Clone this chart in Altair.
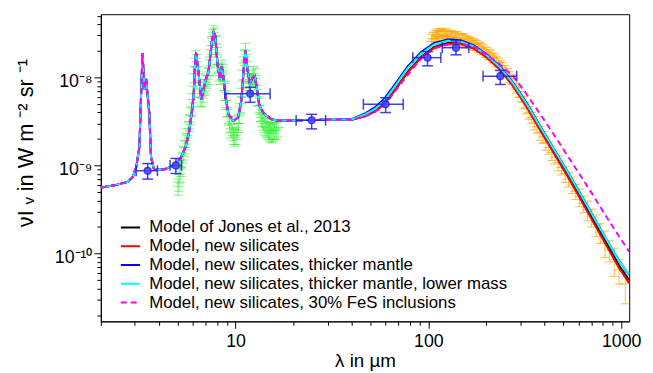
import altair as alt
import pandas as pd

# ---------------- model curves ----------------
short_wl = [2.0, 2.4, 2.76, 2.93, 3.05, 3.17, 3.23, 3.29, 3.37, 3.43, 3.57, 3.64, 3.78, 4.26, 4.79,
            5.18, 5.5, 5.72, 5.95, 6.07, 6.18, 6.24, 6.32, 6.44, 6.64, 6.96, 7.24, 7.53, 7.69, 7.84,
            8.06, 8.3, 8.47, 8.65, 8.89, 9.18, 9.73, 10.3, 10.7, 11.1, 11.25, 11.5, 11.85, 12.3, 12.6,
            13.3, 14.1, 15.3, 16.6, 22.7, 30, 35]
short_I = [5.6e-10, 6.0e-10, 6.5e-10, 7.4e-10, 9.5e-10, 1.61e-9, 5.86e-9, 1.87e-8, 7.3e-9, 9.8e-9,
           3.85e-9, 1.25e-9, 8.9e-10, 9.0e-10, 1.0e-9, 1.2e-9, 1.61e-9, 2.28e-9, 4.2e-9, 6.5e-9,
           1.64e-8, 1.9e-8, 1.5e-8, 1.07e-8, 5.6e-9, 9.0e-9, 1.17e-8, 2.53e-8, 3.25e-8, 3.0e-8,
           1.39e-8, 9.4e-9, 1.33e-8, 1.0e-8, 5.86e-9, 3.82e-9, 3.2e-9, 3.5e-9, 5.4e-9, 1.51e-8,
           2.0e-8, 1.27e-8, 8.5e-9, 1.0e-8, 1.03e-8, 4.73e-9, 3.82e-9, 3.36e-9, 3.21e-9, 3.27e-9,
           3.3e-9, 3.32e-9]

far_wl = [40, 47, 53, 59, 67, 78, 92, 107, 126, 147, 172, 201, 236, 276, 323, 378, 443, 518,
          607, 710, 830, 972, 1100]
jones = [3.3e-9, 3.65e-9, 4.15e-9, 5.0e-9, 7.2e-9, 1.15e-8, 1.72e-8, 2.2e-8, 2.45e-8, 2.43e-8,
         2.15e-8, 1.7e-8, 1.24e-8, 8.0e-9, 4.75e-9, 2.65e-9, 1.48e-9, 8.4e-10, 4.6e-10, 2.5e-10,
         1.37e-10, 7.4e-11, 5.0e-11]
newsil = [3.3e-9, 3.62e-9, 4.1e-9, 4.95e-9, 7.1e-9, 1.13e-8, 1.69e-8, 2.16e-8, 2.4e-8, 2.39e-8,
          2.12e-8, 1.67e-8, 1.21e-8, 7.8e-9, 4.6e-9, 2.55e-9, 1.42e-9, 8.0e-10, 4.35e-10, 2.35e-10,
          1.28e-10, 6.9e-11, 4.6e-11]
thick = [3.35e-9, 3.9e-9, 4.6e-9, 5.7e-9, 8.3e-9, 1.33e-8, 1.95e-8, 2.45e-8, 2.7e-8, 2.63e-8,
         2.3e-8, 1.82e-8, 1.32e-8, 8.6e-9, 5.15e-9, 2.85e-9, 1.6e-9, 9.1e-10, 5.0e-10, 2.75e-10,
         1.5e-10, 8.4e-11, 5.7e-11]
thick_low = [3.33e-9, 3.8e-9, 4.4e-9, 5.4e-9, 7.9e-9, 1.27e-8, 1.87e-8, 2.36e-8, 2.6e-8, 2.55e-8,
             2.24e-8, 1.77e-8, 1.29e-8, 8.4e-9, 5.0e-9, 2.8e-9, 1.58e-9, 9.0e-10, 4.95e-10, 2.72e-10,
             1.5e-10, 8.3e-11, 5.8e-11]
fes = [3.3e-9, 3.6e-9, 4.05e-9, 4.8e-9, 6.9e-9, 1.06e-8, 1.64e-8, 2.12e-8, 2.36e-8, 2.42e-8,
       2.22e-8, 1.8e-8, 1.39e-8, 1.02e-8, 6.45e-9, 3.88e-9, 2.32e-9, 1.36e-9, 8.0e-10, 4.69e-10,
       2.7e-10, 1.58e-10, 1.05e-10]

model_names = ["Model of Jones et al., 2013", "Model, new silicates",
               "Model, new silicates, thicker mantle",
               "Model, new silicates, thicker mantle, lower mass",
               "Model, new silicates, 30% FeS inclusions"]
model_colors = ["#000000", "#ff0000", "#0000ff", "#00ffff", "#ff00ff"]
model_dash = [[1, 0], [1, 0], [1, 0], [1, 0], [6, 4]]

# ---------------- green mid-IR spectrum ----------------
g_wl = [5.02, 5.08, 5.14, 5.2, 5.28, 5.36, 5.44, 5.52, 5.6, 5.68, 5.76, 5.84, 5.92, 6.0, 6.1, 6.2,
        6.3, 6.4, 6.5, 6.6, 6.7, 6.8, 6.9, 7.0, 7.1, 7.2, 7.3, 7.4, 7.5, 7.6, 7.7, 7.8, 7.9, 8.0,
        8.1, 8.2, 8.3, 8.4, 8.5, 8.6, 8.7, 8.8, 8.9, 9.0, 9.15, 9.3, 9.45, 9.6, 9.75, 9.9, 10.05,
        10.2, 10.35, 10.5, 10.65, 10.8, 10.95, 11.1, 11.25, 11.4, 11.55, 11.7, 11.85, 12.0, 12.2,
        12.4, 12.6, 12.8, 13.0, 13.2, 13.4, 13.6, 13.8, 14.0, 14.2, 14.4, 14.6, 14.8, 15.0, 15.2,
        15.4, 15.6, 15.8, 16.0, 16.3, 16.6]
g_I = [5.8e-10, 6.5e-10, 8.0e-10, 9.5e-10, 1.15e-9, 1.35e-9, 1.6e-9, 1.9e-9, 2.2e-9, 2.6e-9,
       3.1e-9, 3.7e-9, 4.6e-9, 6.5e-9, 1.1e-8, 1.65e-8, 1.5e-8, 1.1e-8, 7.5e-9, 6.0e-9, 5.8e-9,
       6.6e-9, 7.8e-9, 8.8e-9, 9.5e-9, 1.05e-8, 1.3e-8, 1.7e-8, 2.3e-8, 2.9e-8, 3.2e-8, 3.0e-8,
       2.4e-8, 1.8e-8, 1.4e-8, 1.15e-8, 1.05e-8, 1.2e-8, 1.3e-8, 1.15e-8, 9e-9, 7e-9, 5.5e-9,
       4.5e-9, 3.6e-9, 3.0e-9, 2.6e-9, 2.4e-9, 2.2e-9, 2.1e-9, 2.2e-9, 2.5e-9, 3.0e-9, 3.8e-9,
       5.0e-9, 7.5e-9, 1.2e-8, 1.7e-8, 2.0e-8, 1.5e-8, 1.1e-8, 9e-9, 8.5e-9, 9e-9, 1.0e-8, 1.1e-8,
       1.05e-8, 8e-9, 6e-9, 4.8e-9, 4.0e-9, 3.5e-9, 3.2e-9, 3.0e-9, 2.8e-9, 2.7e-9, 2.6e-9, 2.5e-9,
       2.4e-9, 2.5e-9, 2.3e-9, 2.4e-9, 2.5e-9, 2.6e-9, 2.5e-9, 2.7e-9]
g_err = [1.2e-10, 1.4e-10, 1.7e-10, 2.0e-10, 2.4e-10, 2.8e-10, 3.3e-10, 4.0e-10, 4.5e-10, 5.5e-10,
         6.5e-10, 8e-10, 1.0e-9, 1.4e-9, 2.3e-9, 3.5e-9, 3.2e-9, 2.3e-9, 1.6e-9, 1.3e-9, 1.2e-9,
         1.4e-9, 1.6e-9, 1.8e-9, 2.0e-9, 2.2e-9, 2.7e-9, 3.5e-9, 4.8e-9, 6e-9, 6.5e-9, 6.2e-9,
         5e-9, 3.8e-9, 2.9e-9, 2.4e-9, 2.2e-9, 2.5e-9, 2.7e-9, 2.4e-9, 1.9e-9, 1.5e-9, 1.2e-9,
         9.5e-10, 7.5e-10, 6.5e-10, 5.5e-10, 5e-10, 4.7e-10, 4.5e-10, 4.7e-10, 5.2e-10, 6.3e-10,
         8e-10, 1.05e-9, 1.6e-9, 2.5e-9, 3.5e-9, 4.3e-9, 3.2e-9, 2.3e-9, 1.9e-9, 1.8e-9, 1.9e-9,
         2.1e-9, 2.3e-9, 2.2e-9, 1.7e-9, 1.3e-9, 1.0e-9, 8.5e-10, 7.5e-10, 7e-10, 6.5e-10, 6e-10,
         6e-10, 5.5e-10, 5.5e-10, 5.5e-10, 5.5e-10, 5e-10, 5.5e-10, 5.5e-10, 6e-10, 5.5e-10, 6e-10]

# ---------------- orange far-IR spectrum ----------------
o_wl = [104, 105.5, 107, 108.5, 110, 111.5, 113, 114.5, 116, 117.5, 119, 120.5, 122, 124, 126,
        128, 130, 132, 134, 136, 138, 140.5, 143, 145.5, 148, 150.5, 153, 156, 159, 162, 165,
        168, 171, 174.5, 178, 181.5, 185, 189, 193, 197, 201, 205.5, 210, 215, 220, 225.5, 231,
        237, 243, 249.5, 256, 263, 270, 278, 286, 294.5, 303, 312.5, 322, 332.5, 343, 354.5, 366,
        379, 392, 406.5, 421, 437, 454, 472, 491, 512, 533, 557, 581, 609, 637, 669, 702, 740,
        778, 823, 868, 920, 975, 1050]
o_I = [2.55e-8, 2.75e-8, 2.7e-8, 2.95e-8, 2.85e-8, 3.05e-8, 2.9e-8, 2.8e-8, 3.0e-8, 3.1e-8,
       2.95e-8, 2.8e-8, 2.9e-8, 3.05e-8, 2.95e-8, 2.75e-8, 2.85e-8, 2.95e-8, 2.85e-8, 2.7e-8,
       2.8e-8, 2.85e-8, 2.78e-8, 2.65e-8, 2.75e-8, 2.7e-8, 2.68e-8, 2.55e-8, 2.6e-8, 2.5e-8,
       2.52e-8, 2.4e-8, 2.42e-8, 2.35e-8, 2.32e-8, 2.22e-8, 2.2e-8, 2.12e-8, 2.06e-8, 1.95e-8,
       1.92e-8, 1.83e-8, 1.78e-8, 1.68e-8, 1.65e-8, 1.53e-8, 1.47e-8, 1.36e-8, 1.3e-8, 1.19e-8,
       1.12e-8, 1.02e-8, 9.5e-9, 8.5e-9, 7.6e-9, 6.9e-9, 6.1e-9, 5.2e-9, 4.5e-9, 4.0e-9, 3.5e-9,
       3.05e-9, 2.75e-9, 2.35e-9, 2.1e-9, 1.82e-9, 1.6e-9, 1.4e-9, 1.25e-9, 1.08e-9, 9.5e-10,
       8.1e-10, 7.0e-10, 6.1e-10, 5.1e-10, 4.4e-10, 3.7e-10, 3.15e-10, 2.6e-10, 2.15e-10,
       1.75e-10, 1.35e-10, 1.1e-10, 8.5e-11, 6.5e-11, 4.5e-11]
o_err = [5e-9, 5e-9, 5e-9, 5e-9, 5e-9, 5e-9, 5e-9, 5e-9, 5e-9, 5e-9, 5e-9, 5e-9, 5e-9, 5e-9, 5e-9,
         4.5e-9, 4.5e-9, 4.5e-9, 4.5e-9, 4.5e-9, 4.5e-9, 4.5e-9, 4e-9, 4e-9, 4e-9, 4e-9, 4e-9,
         4e-9, 3.5e-9, 3.5e-9, 3.5e-9, 3.5e-9, 3.2e-9, 3.2e-9, 3e-9, 3e-9, 2.8e-9, 2.8e-9,
         2.6e-9, 2.6e-9, 2.4e-9, 2.4e-9, 2.2e-9, 2.2e-9, 2e-9, 2e-9, 1.8e-9, 1.8e-9, 1.6e-9,
         1.6e-9, 1.4e-9, 1.4e-9, 1.2e-9, 1.2e-9, 1e-9, 1e-9, 8e-10, 8e-10, 6.5e-10, 6.5e-10,
         5.2e-10, 5.2e-10, 4.2e-10, 4.2e-10, 3.3e-10, 3.3e-10, 2.6e-10, 2.6e-10, 2.1e-10, 2.1e-10,
         1.7e-10, 1.7e-10, 1.3e-10, 1.3e-10, 1e-10, 1e-10, 8e-11, 8e-11, 6e-11, 6e-11, 4.5e-11,
         4.5e-11, 3e-11, 3e-11, 2e-11, 1.8e-11]

# ---------------- blue photometric points ----------------
b_wl = [3.5, 4.9, 11.9, 24.8, 60, 99, 139, 236]
b_I = [8.7e-10, 1.0e-9, 6.5e-9, 3.25e-9, 4.95e-9, 1.67e-8, 2.17e-8, 1.03e-8]
b_xlo = [3.05, 4.57, 8.8, 20.6, 46, 83, 118, 192]
b_xhi = [3.93, 5.24, 15.1, 29.3, 74, 116, 162, 287]
b_ylo = [7.0e-10, 8.1e-10, 5.2e-9, 2.6e-9, 3.98e-9, 1.35e-8, 1.8e-8, 8.3e-9]
b_yhi = [1.05e-9, 1.2e-9, 7.7e-9, 3.8e-9, 5.86e-9, 1.96e-8, 2.6e-8, 1.2e-8]

x_ticks = [2, 3, 4, 5, 6, 7, 8, 9, 10, 20, 30, 40, 50, 60, 70, 80, 90, 100, 200, 300, 400,
           500, 600, 700, 800, 900, 1000]
y_ticks = [2e-11, 3e-11, 4e-11, 5e-11, 6e-11, 7e-11, 8e-11, 9e-11, 1e-10, 2e-10, 3e-10, 4e-10,
           5e-10, 6e-10, 7e-10, 8e-10, 9e-10, 1e-9, 2e-9, 3e-9, 4e-9, 5e-9, 6e-9, 7e-9, 8e-9,
           9e-9, 1e-8, 2e-8, 3e-8, 4e-8, 5e-8]

# ---------------- tables ----------------
rows = []
for name, far in zip(model_names, [jones, newsil, thick, thick_low, fes]):
    for i, (w, v) in enumerate(zip(short_wl + far_wl, short_I + far)):
        rows.append({"model": name, "wl": w, "I": v, "idx": i})
models = pd.DataFrame(rows)

green = pd.DataFrame({"wl": g_wl, "I": g_I, "err": g_err})
green["lo"] = green["I"] - green["err"]
green["hi"] = green["I"] + green["err"]
orange = pd.DataFrame({"wl": o_wl, "I": o_I, "err": o_err})
orange["lo"] = orange["I"] - orange["err"]
orange["hi"] = orange["I"] + orange["err"]
blue = pd.DataFrame({"wl": b_wl, "I": b_I, "xlo": b_xlo, "xhi": b_xhi, "lo": b_ylo, "hi": b_yhi})

FONT = "Liberation Sans"
xs = alt.Scale(type="log", domain=[2, 1100], nice=False)
ys = alt.Scale(type="log", domain=[1.7e-11, 5.2e-8], nice=False)
LG = "(log(datum.value)/LN10)"
MAJ = f"abs({LG} - round({LG})) < 0.01"
EXP = f"round({LG})"

x_axis = alt.Axis(values=x_ticks, title="λ in µm", grid=False,
                  labelExpr=f"{MAJ} ? format(datum.value, 'd') : ''",
                  tickSize={"condition": {"test": MAJ, "value": 7}, "value": 4},
                  tickColor="black", domainColor="black", labelColor="black", titleColor="black",
                  labelFont=FONT, titleFont=FONT, labelFontSize=18, titleFontSize=19,
                  titleFontWeight="normal", labelPadding=4, titlePadding=2,
                  labelFlush=False, labelOverlap=False)
y_axis = alt.Axis(values=y_ticks, title="νI ᵥ  in W m ⁻²  sr ⁻¹", grid=False,
                  labelExpr=(f"!({MAJ}) ? '' : {EXP} == -8 ? '10⁻⁸' : {EXP} == -9 ? '10⁻⁹' : "
                             f"{EXP} == -10 ? '10⁻¹⁰' : ''"),
                  tickSize={"condition": {"test": MAJ, "value": 7}, "value": 4},
                  tickColor="black", domainColor="black", labelColor="black", titleColor="black",
                  labelFont=FONT, titleFont=FONT, labelFontSize=18, titleFontSize=22,
                  titleFontWeight="normal", labelPadding=2, labelOffset=4,
                  titleX=-64, titleY=130, titleAlign="center", titleBaseline="bottom",
                  titleAngle=270,
                  labelFlush=False, labelOverlap=False)


def X(f):
    return alt.X(f, type="quantitative", scale=xs, axis=x_axis)


def Y(f):
    return alt.Y(f, type="quantitative", scale=ys, axis=y_axis)


def errbars(df, color, opacity, cap, mid):
    base = alt.Chart(df)
    v = base.mark_rule(color=color, opacity=opacity, strokeWidth=1, clip=True).encode(
        x=X("wl"), y=Y("lo"), y2="hi")
    c1 = base.mark_tick(color=color, opacity=opacity, orient="horizontal", size=cap,
                        thickness=1, clip=True).encode(x=X("wl"), y=Y("lo"))
    c2 = base.mark_tick(color=color, opacity=opacity, orient="horizontal", size=cap,
                        thickness=1, clip=True).encode(x=X("wl"), y=Y("hi"))
    c3 = base.mark_tick(color=color, opacity=opacity, orient="horizontal", size=mid,
                        thickness=1, clip=True).encode(x=X("wl"), y=Y("I"))
    return [v, c1, c2, c3]


legend = alt.Legend(orient="none", legendX=19, legendY=205, title=None, labelFontSize=17,
                    labelFont=FONT, labelColor="black", symbolType="stroke", symbolSize=380,
                    symbolStrokeWidth=2, labelOffset=8, rowPadding=0, padding=0, labelLimit=0)

lines = alt.Chart(models).mark_line(strokeWidth=2, clip=True).encode(
    x=X("wl"), y=Y("I"),
    color=alt.Color("model:N", scale=alt.Scale(domain=model_names, range=model_colors),
                    legend=legend),
    strokeDash=alt.StrokeDash("model:N", scale=alt.Scale(domain=model_names, range=model_dash),
                              legend=legend),
    order="idx:Q")

bcol = "#1f1fe6"
bb = alt.Chart(blue)
b_layers = [
    bb.mark_rule(color=bcol, strokeWidth=1.5, opacity=0.85).encode(
        x=X("xlo"), x2="xhi", y=Y("I")),
    bb.mark_rule(color=bcol, strokeWidth=1.5, opacity=0.85).encode(
        x=X("wl"), y=Y("lo"), y2="hi"),
    bb.mark_tick(color=bcol, orient="vertical", size=11, thickness=1.5, opacity=0.85).encode(
        x=X("xlo"), y=Y("I")),
    bb.mark_tick(color=bcol, orient="vertical", size=11, thickness=1.5, opacity=0.85).encode(
        x=X("xhi"), y=Y("I")),
    bb.mark_tick(color=bcol, orient="horizontal", size=11, thickness=1.5, opacity=0.85).encode(
        x=X("wl"), y=Y("lo")),
    bb.mark_tick(color=bcol, orient="horizontal", size=11, thickness=1.5, opacity=0.85).encode(
        x=X("wl"), y=Y("hi")),
    bb.mark_point(shape="circle", filled=True, color="#4b4bff", stroke=bcol, strokeWidth=1.5,
                  size=45, opacity=0.85).encode(x=X("wl"), y=Y("I")),
]

chart = alt.layer(
    *errbars(orange, "#ffa500", 0.7, 9, 11),
    *errbars(green, "#22ee22", 0.6, 9, 11),
    lines,
    *b_layers,
).properties(
    width=535, height=311,
    autosize=alt.AutoSizeParams(type="none"),
    padding={"left": 94, "top": 4, "right": 16, "bottom": 50},
    background="white",
).configure_view(stroke="black", strokeWidth=1)

chart.save("out.html", embed_options={"renderer": "svg", "actions": False})
